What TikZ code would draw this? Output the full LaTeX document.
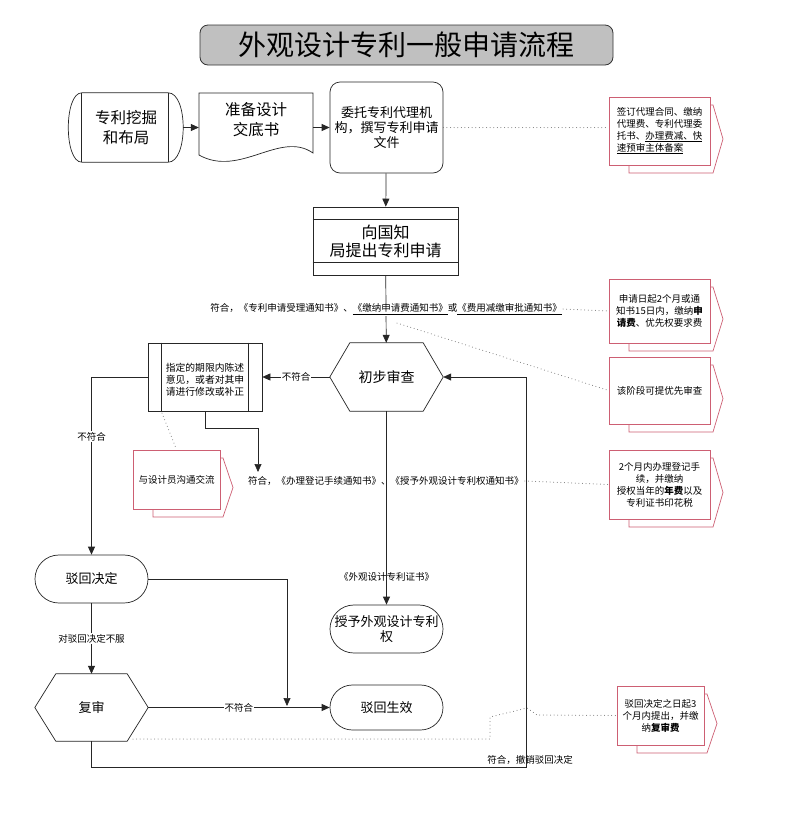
\documentclass[tikz,border=0pt]{standalone}
\usepackage{fontspec}
\setmainfont{Noto Sans CJK SC}
\usetikzlibrary{arrows.meta,calc}
\definecolor{notered}{RGB}{205,95,115}
\definecolor{titlegray}{RGB}{192,192,192}
\tikzset{
 shp/.style={draw=black!85, fill=white, line width=0.7pt},
 ln/.style={draw=black!85, line width=0.7pt},
 arr/.style={ln, -{Triangle[length=8pt,width=7pt]}},
 dotl/.style={draw=black!55, line width=1pt, line cap=round, dash pattern=on 0pt off 3.6pt},
 nbox/.style={inner sep=0pt, align=center},
 lbl/.style={font=\fontsize{9.5}{11}\selectfont, inner sep=1pt},
 lblw/.style={lbl, fill=white},
 notebk/.style={draw=notered, fill=white, line width=0.7pt},
 notefr/.style={draw=notered, fill=white, line width=0.7pt, inner sep=0pt, align=center, font=\fontsize{9.5}{12}\selectfont},
 fa/.style={font=\fontsize{15.5}{20}\selectfont},
 fb/.style={font=\fontsize{13}{15}\selectfont},
 fc/.style={font=\fontsize{16}{18}\selectfont},
 fd/.style={font=\fontsize{9.8}{12}\selectfont},
}
\newcommand{\mynote}[6]{%
 \draw[notebk] ({#2+20},{#3+8}) -- ({#4+3},{#3+8}) -- ({#4+13},{(#3+#5)/2+8}) -- ({#4+3},{#5+8}) -- ({#2+20},{#5+8}) -- cycle;
 \node[notefr, minimum width={#4-#2}, minimum height={#5-#3}] (#1) at ({(#2+#4)/2},{(#3+#5)/2}) {#6};}
\begin{document}
\begin{tikzpicture}[x=1pt,y=-1pt]
\useasboundingbox[fill=white] (0,0) rectangle (800,839);

% title
\node[draw=black!80, fill=titlegray, rounded corners=8pt, minimum width=413pt, minimum height=40pt, line width=0.8pt, font=\fontsize{28}{30}\selectfont] (title) at (406.5,45) {外观设计专利一般申请流程};

% top row
\node[nbox, minimum width=114pt, minimum height=69pt] (mine) at (126,127.5) {};
\draw[shp] ([xshift=13pt]mine.north west) -- ([xshift=-15pt]mine.north east)
  .. controls ([xshift=5pt]mine.north east) and ([xshift=5pt]mine.south east) .. ([xshift=-15pt]mine.south east)
  -- ([xshift=13pt]mine.south west)
  .. controls ([xshift=-5pt]mine.south west) and ([xshift=-5pt]mine.north west) .. ([xshift=13pt]mine.north west) -- cycle;
\draw[ln] ([xshift=13pt]mine.north west) -- ([xshift=13pt]mine.south west);
\draw[ln] ([xshift=-15pt]mine.north east) -- ([xshift=-15pt]mine.south east);
\node[nbox, fa] at (126,128) {专利挖掘\\和布局};

\node[nbox, minimum width=114pt, minimum height=69pt] (doc) at (256,127.5) {};
\draw[shp] (199,93) -- (313,93) -- (313,153) .. controls (280,130) and (240,178) .. (199,155) -- cycle;
\node[nbox, fa] at (256,120) {准备设计\\交底书};

\node[shp, nbox, rounded corners=10pt, minimum width=113pt, minimum height=91pt, fb] (entrust) at (386.5,127.5) {委托专利代理机\\构，撰写专利申请\\文件};

\node[shp, nbox, minimum width=145pt, minimum height=68pt, fc] (file) at (385.5,241) {向国知\\局提出专利申请};
\draw[ln] ([yshift=-13pt]file.north west) -- ([yshift=-13pt]file.north east);
\draw[ln] ([yshift=13pt]file.south west) -- ([yshift=13pt]file.south east);

% check hexagon
\node[nbox, minimum width=113pt, minimum height=68pt] (chk) at (386.5,377) {};
\draw[shp] (chk.west) -- ([xshift=20pt]chk.north west) -- ([xshift=-20pt]chk.north east) -- (chk.east) -- ([xshift=-20pt]chk.south east) -- ([xshift=20pt]chk.south west) -- cycle;
\node[nbox, font=\fontsize{14}{16}\selectfont] at (chk) {初步审查};

% fix box
\node[shp, nbox, minimum width=114pt, minimum height=68pt] (fix) at (205,377) {};
\draw[ln] ([xshift=14pt]fix.north west) -- ([xshift=14pt]fix.south west);
\draw[ln] ([xshift=-14pt]fix.north east) -- ([xshift=-14pt]fix.south east);
\node[nbox, fd] at (205,380) {指定的期限内陈述\\意见，或者对其申\\请进行修改或补正};

% lower nodes
\node[shp, nbox, rounded corners=23.9pt, minimum width=113pt, minimum height=48pt, fb] (rej) at (91.5,579) {驳回决定};
\node[shp, nbox, rounded corners=23.9pt, minimum width=113pt, minimum height=48pt, fb] (grant) at (386.5,629) {授予外观设计专利\\权};
\node[nbox, minimum width=113pt, minimum height=67pt] (review) at (91.5,707.5) {};
\draw[shp] (review.west) -- ([xshift=21pt]review.north west) -- ([xshift=-21pt]review.north east) -- (review.east) -- ([xshift=-21pt]review.south east) -- ([xshift=21pt]review.south west) -- cycle;
\node[nbox, fb] at (review) {复审};
\node[shp, nbox, rounded corners=22.4pt, minimum width=113pt, minimum height=45pt, fb] (final) at (386.5,707.5) {驳回生效};

% notes
\mynote{n1}{609}{97}{710}{165}{\begin{tabular}{@{}l@{}}签订代理合同、缴纳\\代理费、专利代理委\\托书、\underline{办理费减、快}\\\underline{速预审主体备案}\end{tabular}}
\mynote{n2}{609}{279}{710}{343}{申请日起2个月或通\\知书15日内，缴纳\textbf{申}\\\textbf{请费}、优先权要求费}
\mynote{n3}{609}{357}{710}{424}{该阶段可提优先审查}
\mynote{n4}{133}{450}{220}{509}{与设计员沟通交流}
\mynote{n5}{609}{450}{710}{519}{2个月内办理登记手\\续，并缴纳\\授权当年的\textbf{年费}以及\\专利证书印花税}
\mynote{n6}{617}{686}{704}{745}{驳回决定之日起3\\个月内提出，并缴\\纳\textbf{复审费}}

% connectors
\draw[arr] (mine) -- (doc);
\draw[arr] (doc) -- (entrust);
\draw[arr] (entrust) -- (file);
\draw[arr] (file) -- node[lblw] (l1) {符合，《专利申请受理通知书》、\underline{《缴纳申请费通知书》}或\underline{《费用减缴审批通知书》}} (chk);
\draw[arr] (chk) -- node[lblw] {不符合} (fix);
\draw[arr] (fix.west) -| node[lblw, pos=0.668] {不符合} (rej.north);
\coordinate (c1) at (258,472);
\draw[arr] (fix.south) -- ++(0,17) -| (c1);
\node[lbl, anchor=west] (l2) at (247,481) {符合，《办理登记手续通知书》、《授予外观设计专利权通知书》};
\draw[arr] (chk) -- node[lbl, pos=0.856] {《外观设计专利证书》} (grant);
\draw[arr] (rej) -- node[lblw] {对驳回决定不服} (review);
\coordinate (c2) at (287,706);
\draw[arr] (rej.east) -| (c2);
\draw[arr] (review) -- node[lblw] {不符合} (final);
\coordinate (c3) at (526,377);
\draw[arr] (review.south) -- ++(0,26) -| (c3) -- (chk.east);
\node[lbl] (l3) at (530,760) {符合，撤销驳回决定};

% dotted links
\draw[dotl] (entrust.east) -- (entrust.east -| n1.west);
\draw[dotl] (l1.east) -- (n2.west);
\coordinate (d1) at (397,323);
\draw[dotl] (d1) -- (n3.west);
\coordinate (d2) at (162,413);
\draw[dotl] (d2) -- (n4.north);
\draw[dotl] (l2.east) -- (n5.west);
\coordinate (d3) at (133,739);
\draw[dotl] (d3) -- (490,739) -- (490,717) -- (527,708) -- (537,715) -- (n6.west);
\end{tikzpicture}
\end{document}
